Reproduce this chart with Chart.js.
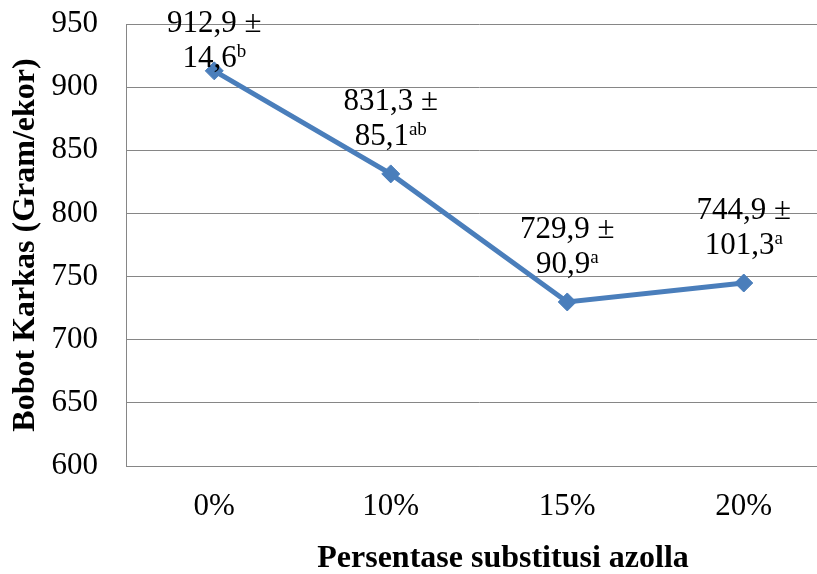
<!DOCTYPE html>
<html>
<head>
<meta charset="utf-8">
<script src="https://cdn.jsdelivr.net/npm/chart.js@4.4.1/dist/chart.umd.min.js"></script>
<style>
  html, body { margin: 0; padding: 0; overflow: hidden; background: #fff; }
  #wrap { width: 850px; height: 574px; position: relative; }
</style>
</head>
<body>
<div id="wrap"><canvas id="bobotKarkas"></canvas></div>
<script>
// data
const labels = ['0%', '10%', '15%', '20%'];
const means = [912.9, 831.3, 729.9, 744.9];
const sds = [14.6, 85.1, 90.9, 101.3];
const letters = ['b', 'ab', 'a', 'a'];
const yTicks = [600, 650, 700, 750, 800, 850, 900, 950];
const xTitle = 'Persentase substitusi azolla';

const serif = '"Liberation Serif", "Times New Roman", serif';
const fmt = (v) => v.toFixed(1).replace('.', ',');

// two-line labels "mean ±" / "sd^letter" above each point, plus x title
const meanLabels = {
  id: 'meanLabels',
  afterDatasetsDraw(chart) {
    const ctx = chart.ctx;
    const meta = chart.getDatasetMeta(0);
    ctx.save();
    ctx.fillStyle = '#000';
    ctx.textBaseline = 'alphabetic';
    meta.data.forEach((pt, i) => {
      let base1 = Math.max(pt.y - 64, 32);
      let base2 = base1 + 35;
      ctx.font = '31px ' + serif;
      ctx.textAlign = 'center';
      ctx.fillText(fmt(means[i]) + ' \u00b1', pt.x, base1);
      const main = fmt(sds[i]);
      const mw = ctx.measureText(main).width;
      ctx.font = '19px ' + serif;
      const sw = ctx.measureText(letters[i]).width;
      const x0 = pt.x - (mw + sw) / 2;
      ctx.textAlign = 'left';
      ctx.fillText(letters[i], x0 + mw, base2 - 10);
      ctx.font = '31px ' + serif;
      ctx.fillText(main, x0, base2);
    });
    // axis title sits a bit right of the plot centre
    const a = chart.chartArea;
    ctx.font = 'bold 32px ' + serif;
    ctx.textAlign = 'center';
    ctx.fillText(xTitle, (a.left + a.right) / 2 + 24, 567);
    ctx.restore();
  }
};

new Chart(document.getElementById('bobotKarkas'), {
  type: 'line',
  data: {
    labels: labels,
    datasets: [{
      label: 'Bobot Karkas',
      data: means,
      borderColor: '#4A7EBB',
      backgroundColor: '#4A7EBB',
      borderWidth: 5,
      pointStyle: 'rectRot',
      pointRadius: 9,
      pointBorderWidth: 1,
      pointBorderColor: '#4A7EBB',
      tension: 0
    }]
  },
  options: {
    responsive: true,
    maintainAspectRatio: false,
    animation: false,
    layout: { padding: { top: 24, right: 18, bottom: 0, left: 0 } },
    plugins: {
      legend: { display: false },
      tooltip: { enabled: false }
    },
    scales: {
      x: {
        offset: true,
        grid: { display: false, drawTicks: false, offset: true },
        border: { display: true, color: '#868686', width: 1 },
        ticks: { color: '#000', padding: 22, font: { family: serif, size: 31 } },
        title: { display: false },
        afterFit: (scale) => { scale.height = 108; }
      },
      y: {
        min: 600,
        max: 950,
        afterBuildTicks: (scale) => { scale.ticks = yTicks.map((v) => ({ value: v })); },
        grid: { color: '#868686', lineWidth: 1, drawTicks: false },
        border: { display: true, color: '#868686', width: 1 },
        ticks: { color: '#000', padding: 28, font: { family: serif, size: 31 } },
        title: {
          display: true,
          text: 'Bobot Karkas (Gram/ekor)',
          color: '#000',
          font: { family: serif, size: 32, weight: 'bold' },
          padding: { top: 7, bottom: 0 }
        },
        afterFit: (scale) => {
          scale.width = 126;
          scale.paddingTop = 0;
          scale.paddingBottom = 0;
        }
      }
    }
  },
  plugins: [meanLabels]
});
</script>
</body>
</html>
